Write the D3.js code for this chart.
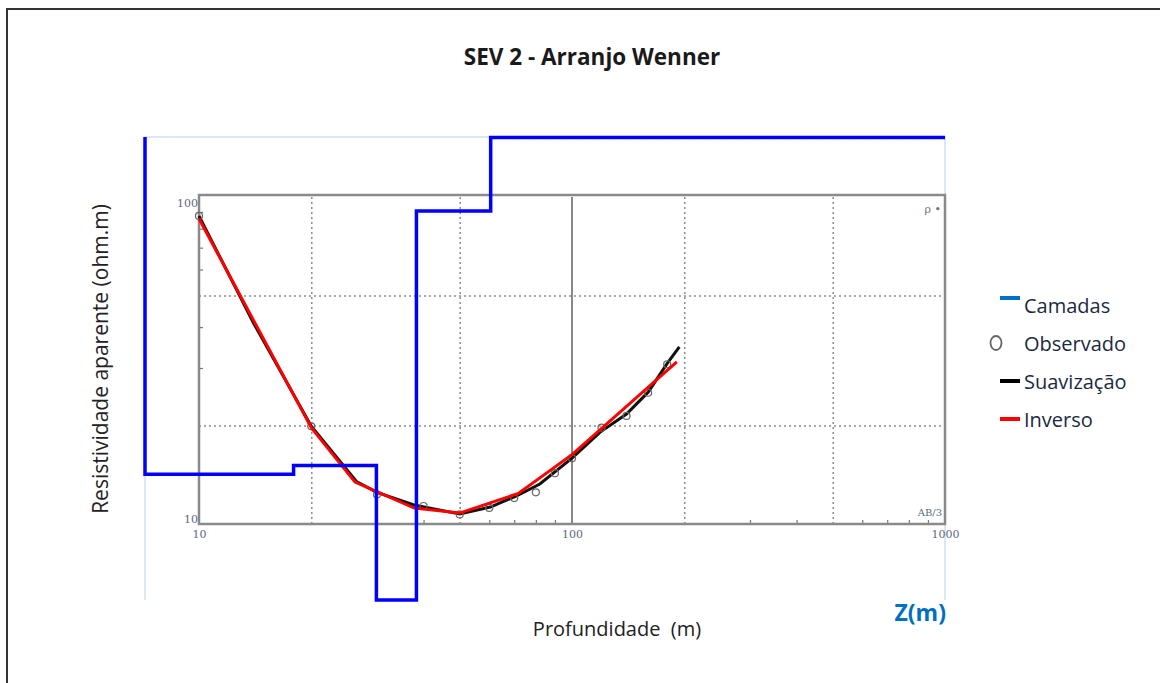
<html>
<head>
<script src="https://d3js.org/d3.v7.min.js"></script>
<style>
  body { margin: 0; background: #fff; }
  text { font-family: "Open Sans", sans-serif; }
  .grid line { stroke: #8c8c8c; stroke-width: 1.5; stroke-dasharray: 2,3; }
  .grid .domain, .minor .domain, .labels .domain { stroke: none; }
  .minor line { stroke: #777; stroke-width: 1.2; }
  .labels text { fill: #5a6a80; font-size: 11px; font-family: "DejaVu Serif", serif; }
</style>
</head>
<body>
<svg id="chart" width="1160" height="683"></svg>
<script>

// observed points: AB/3 (m) and apparent resistivity (ohm.m)
const obsAB  = [10, 20, 30, 40, 50, 60, 70, 80, 90, 100, 120, 140, 160, 180];
const obsRho = [87.5, 19.9, 12.3, 11.35, 10.7, 11.2, 12.0, 12.5, 14.3, 15.9, 19.7, 21.4, 25.2, 30.8];

// smoothed curve (black)
const smoothAB  = [10, 14, 20, 26.5, 30, 37.7, 50, 60.4, 71, 82, 100, 119, 140, 160, 180, 194];
const smoothRho = [87.5, 41.2, 19.9, 13.45, 12.5, 11.43, 10.73, 11.27, 12.18, 13.25, 15.9, 19.1, 21.7, 25.3, 31.0, 34.8];

// inverse model response (red)
const invAB  = [10, 20, 26.2, 37.8, 50, 71.8, 100, 191];
const invRho = [85.8, 19.7, 13.44, 11.19, 10.8, 12.4, 16.3, 31.3];

// layers: start depth (m) and resistivity, last one goes to the end of the frame
const layerTop = [7.2, 18, 30, 38.4, 60.7];
const layerRho = [14.2, 15.1, 5.86, 90.4, 151.5];

const xGrid = [20, 50, 200, 500];
const yGrid = [20, 50];
const xMinor = [30, 40, 60, 70, 80, 90, 300, 400, 600, 700, 800, 900];
const yMinor = [30, 40, 60, 70, 80, 90];
const xLabels = [10, 100, 1000];
const yLabels = [10, 100];

const legendNames = ['Camadas', 'Observado', 'Suavização', 'Inverso'];
const legendColors = ['#0070c0', '#666', '#000', '#ff0000'];

const svg = d3.select('svg#chart');

// outer frame
svg.append('rect')
  .attr('x', 7).attr('y', 9)
  .attr('width', 1170).attr('height', 700)
  .attr('fill', 'none').attr('stroke', '#333').attr('stroke-width', 2);

// title
svg.append('text')
  .attr('x', 592).attr('y', 65)
  .attr('text-anchor', 'middle')
  .style('font-weight', 'bold').style('font-size', '22.5px')
  .attr('fill', '#1a1a1a')
  .text('SEV 2 - Arranjo Wenner');

// inner log-log plot
const x = d3.scaleLog().domain([10, 1000]).range([199, 945]);
const y = d3.scaleLog().domain([10, 100]).range([524, 197]);
const plotH = 524 - 197;

// layer frame scales
const zScale = d3.scaleLog().domain([7.2, 1000]).range([145, 945]);
const rScale = d3.scaleLog().domain([5.86, 152]).range([600, 137]);

// light frame of the layer chart
svg.append('path')
  .attr('d', `M${zScale(7.2)},${rScale(5.86)}V${rScale(152)}H${zScale(1000)}V${rScale(5.86)}`)
  .attr('fill', 'none').attr('stroke', '#cfe0f3').attr('stroke-width', 1.5);

// gridlines
svg.append('g').attr('class', 'grid')
  .attr('transform', 'translate(0,524)')
  .call(d3.axisBottom(x).tickValues(xGrid).tickSize(-plotH).tickFormat(''));
svg.append('g').attr('class', 'grid')
  .attr('transform', 'translate(199,0)')
  .call(d3.axisLeft(y).tickValues(yGrid).tickSize(-(945 - 199)).tickFormat(''));

// solid line at 100
svg.append('line')
  .attr('x1', x(100)).attr('x2', x(100))
  .attr('y1', 197).attr('y2', 524)
  .attr('stroke', '#888').attr('stroke-width', 2);

// minor ticks
svg.append('g').attr('class', 'minor')
  .attr('transform', 'translate(0,524)')
  .call(d3.axisBottom(x).tickValues(xMinor).tickSize(-4).tickFormat(''));
svg.append('g').attr('class', 'minor')
  .attr('transform', 'translate(199,0)')
  .call(d3.axisLeft(y).tickValues(yMinor).tickSize(-4).tickFormat(''));

// plot border
svg.append('rect')
  .attr('x', 199).attr('y', 195)
  .attr('width', 945 - 199).attr('height', 524 - 195)
  .attr('fill', 'none').attr('stroke', '#8a8a8a').attr('stroke-width', 2.5);

// tick labels
svg.append('g').attr('class', 'labels')
  .attr('transform', 'translate(0,527)')
  .call(d3.axisBottom(x).tickValues(xLabels).tickSize(0).tickPadding(3).tickFormat(d3.format('d')));
svg.append('g').attr('class', 'labels')
  .attr('transform', 'translate(198,0)')
  .call(d3.axisLeft(y).tickValues(yLabels).tickSize(0).tickPadding(0).tickFormat(d3.format('d')))
  .selectAll('text')
  .attr('dy', d => d === 100 ? '0.85em' : '-0.15em');

svg.append('text').attr('x', 941).attr('y', 213)
  .attr('text-anchor', 'end').attr('fill', '#7a6a8a')
  .style('font-size', '11px').style('font-family', 'DejaVu Serif, serif')
  .text('ρ •');
svg.append('text').attr('x', 942).attr('y', 516)
  .attr('text-anchor', 'end').attr('fill', '#5a6a80')
  .style('font-size', '10px').style('font-family', 'DejaVu Serif, serif')
  .text('AB/3');

// curves
const line = d3.line().x(d => x(d[0])).y(d => y(d[1]));

svg.append('path')
  .datum(smoothAB.map((a, i) => [a, smoothRho[i]]))
  .attr('d', line)
  .attr('fill', 'none').attr('stroke', '#111').attr('stroke-width', 3);

svg.selectAll('circle.obs')
  .data(obsAB.map((a, i) => [a, obsRho[i]]))
  .enter().append('circle')
  .attr('class', 'obs')
  .attr('cx', d => x(d[0])).attr('cy', d => y(d[1]))
  .attr('r', 3.5)
  .attr('fill', 'none').attr('stroke', '#666').attr('stroke-width', 1.2);

svg.append('path')
  .datum(invAB.map((a, i) => [a, invRho[i]]))
  .attr('d', line)
  .attr('fill', 'none').attr('stroke', '#ff0000').attr('stroke-width', 3);

// layers step line
let pts = [[zScale(layerTop[0]), rScale(152)]];
layerTop.forEach((t, i) => {
  const bottom = i < layerTop.length - 1 ? layerTop[i + 1] : 1000;
  pts.push([zScale(t), rScale(layerRho[i])]);
  pts.push([zScale(bottom), rScale(layerRho[i])]);
});
svg.append('path')
  .attr('d', d3.line()(pts))
  .attr('fill', 'none').attr('stroke', '#0000ff').attr('stroke-width', 3.5);

// axis titles
svg.append('text')
  .attr('transform', 'translate(108,359) rotate(-90)')
  .attr('text-anchor', 'middle')
  .style('font-size', '21px').attr('fill', '#222')
  .text('Resistividade aparente (ohm.m)');

svg.append('text')
  .attr('x', 617).attr('y', 636)
  .attr('text-anchor', 'middle')
  .style('font-size', '20px').style('white-space', 'pre').attr('fill', '#222')
  .text('Profundidade  (m)');

svg.append('text')
  .attr('x', 946).attr('y', 621)
  .attr('text-anchor', 'end')
  .style('font-size', '23px').style('font-weight', 'bold').attr('fill', '#0070c0')
  .text('Z(m)');

// legend
const legendY = d3.scalePoint().domain(legendNames).range([306, 420]);
const legend = svg.selectAll('g.leg')
  .data(legendNames)
  .enter().append('g')
  .attr('class', 'leg')
  .attr('transform', d => `translate(0,${legendY(d)})`);

legend.each(function(d, i) {
  const g = d3.select(this);
  if (d === 'Observado') {
    g.append('ellipse').attr('cx', 996).attr('cy', -1)
      .attr('rx', 5.5).attr('ry', 7)
      .attr('fill', 'none').attr('stroke', legendColors[i]).attr('stroke-width', 1.8);
  } else {
    g.append('line').attr('x1', 1000).attr('x2', 1020)
      .attr('y1', d === 'Camadas' ? -8 : -1).attr('y2', d === 'Camadas' ? -8 : -1)
      .attr('stroke', legendColors[i]).attr('stroke-width', 4);
  }
  g.append('text').attr('x', 1024).attr('y', 7)
    .style('font-size', '20px').attr('fill', '#1a2a40')
    .text(d);
});

</script>
</body>
</html>
